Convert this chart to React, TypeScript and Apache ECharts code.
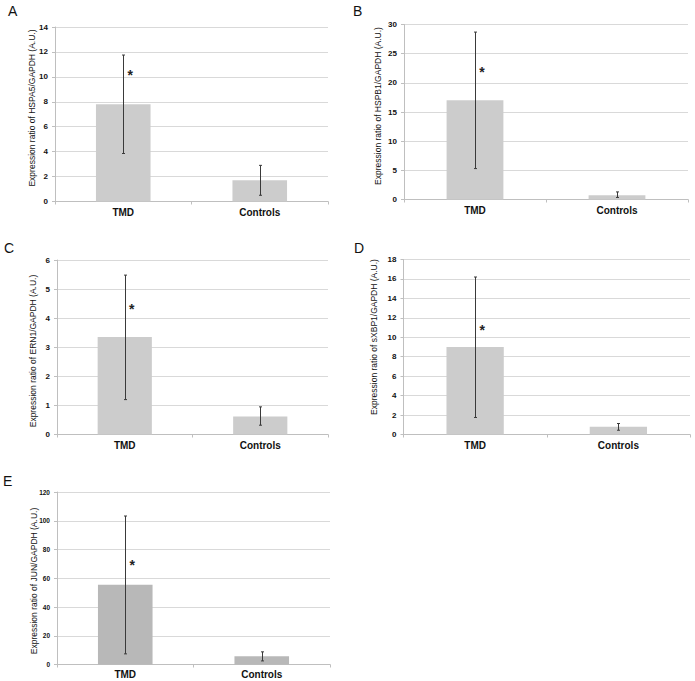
import React, { useEffect, useRef } from "react";
import * as echarts from "echarts";

const categories = ["TMD", "Controls"];

const hspa5Mean = [7.8, 1.7];
const hspa5Upper = [11.75, 2.9];
const hspa5Lower = [3.85, 0.5];
const hspa5Star = 10.4;

const hspb1Mean = [17.0, 0.75];
const hspb1Upper = [28.7, 1.3];
const hspb1Lower = [5.3, 0.35];
const hspb1Star = 22.4;

const ern1Mean = [3.35, 0.62];
const ern1Upper = [5.48, 0.95];
const ern1Lower = [1.2, 0.32];
const ern1Star = 4.42;

const sxbp1Mean = [9.0, 0.8];
const sxbp1Upper = [16.2, 1.13];
const sxbp1Lower = [1.75, 0.44];
const sxbp1Star = 11.1;

const junMean = [55.5, 5.8];
const junUpper = [103.3, 8.8];
const junLower = [7.4, 2.5];
const junStar = 71;

const yMax = [14, 30, 6, 18, 120];
const yInterval = [2, 5, 1, 2, 20];
const yTitles = [
  "Expression ratio of HSPA5/GAPDH (A.U.)",
  "Expression ratio of HSPB1/GAPDH (A.U.)",
  "Expression ratio of ERN1/GAPDH (A.U.)",
  "Expression ratio of sXBP1/GAPDH (A.U.)",
  "Expression ratio of JUN/GAPDH (A.U.)",
];
const panelLetters = ["A", "B", "C", "D", "E"];

const FONT = "Liberation Sans, Arial, sans-serif";

export default function App() {
  const ref = useRef<HTMLDivElement>(null);
  useEffect(() => {
    if (!ref.current) return;
    const chart = echarts.init(ref.current, undefined, { renderer: "svg" });

    const panels = [
      { mean: hspa5Mean, up: hspa5Upper, lo: hspa5Lower, star: hspa5Star, color: "#cccccc", tickFont: 8 },
      { mean: hspb1Mean, up: hspb1Upper, lo: hspb1Lower, star: hspb1Star, color: "#cccccc", tickFont: 8 },
      { mean: ern1Mean, up: ern1Upper, lo: ern1Lower, star: ern1Star, color: "#cccccc", tickFont: 8 },
      { mean: sxbp1Mean, up: sxbp1Upper, lo: sxbp1Lower, star: sxbp1Star, color: "#cccccc", tickFont: 8 },
      { mean: junMean, up: junUpper, lo: junLower, star: junStar, color: "#b8b8b8", tickFont: 6.5 },
    ];

    const grids = [
      { left: 55, top: 27, width: 273, height: 174.5 },
      { left: 404, top: 24.5, width: 284, height: 175 },
      { left: 57, top: 260, width: 271, height: 174.5 },
      { left: 403.5, top: 259.5, width: 286.5, height: 175 },
      { left: 57, top: 492, width: 273, height: 172.5 },
    ];
    const letterPos = [
      [8, 4],
      [353, 4],
      [4, 241],
      [354, 241],
      [3, 474],
    ];
    const titlePos = [
      [32, 108],
      [378, 106],
      [32.5, 351],
      [373.5, 337],
      [34, 581],
    ];

    const xAxis: any[] = [];
    const yAxis: any[] = [];
    const series: any[] = [];

    panels.forEach((p, i) => {
      xAxis.push({
        type: "category",
        gridIndex: i,
        data: categories,
        axisLine: { lineStyle: { color: "#bfbfbf", width: 1 } },
        axisTick: { show: true, length: 3, lineStyle: { color: "#bfbfbf" } },
        axisLabel: {
          color: "#111",
          fontFamily: FONT,
          fontWeight: "bold",
          fontSize: 10,
          margin: i === 4 ? 5 : 6,
        },
      });
      yAxis.push({
        type: "value",
        gridIndex: i,
        min: 0,
        max: yMax[i],
        interval: yInterval[i],
        axisLine: { show: true, lineStyle: { color: "#bfbfbf", width: 1 } },
        axisTick: { show: true, length: 3, lineStyle: { color: "#bfbfbf" } },
        splitLine: { show: true, lineStyle: { color: "#d9d9d9", width: 1 } },
        axisLabel: {
          color: "#111",
          fontFamily: FONT,
          fontWeight: "bold",
          fontSize: p.tickFont,
          margin: 7,
        },
      });
      series.push({
        type: "bar",
        xAxisIndex: i,
        yAxisIndex: i,
        data: p.mean,
        barWidth: "40%",
        itemStyle: { color: p.color },
        silent: true,
        z: 2,
      });
      series.push({
        type: "custom",
        xAxisIndex: i,
        yAxisIndex: i,
        data: categories.map((_, k) => [k, p.lo[k], p.up[k]]),
        z: 5,
        renderItem: (params: any, api: any) => {
          const lo = api.coord([api.value(0), api.value(1)]);
          const hi = api.coord([api.value(0), api.value(2)]);
          const x = Math.round(lo[0]) + 0.5;
          const st = { stroke: "#3a3a3a", lineWidth: 1 };
          return {
            type: "group",
            children: [
              { type: "line", shape: { x1: x, y1: lo[1], x2: x, y2: hi[1] }, style: st },
              { type: "line", shape: { x1: x - 1.5, y1: lo[1], x2: x + 1.5, y2: lo[1] }, style: st },
              { type: "line", shape: { x1: x - 1.5, y1: hi[1], x2: x + 1.5, y2: hi[1] }, style: st },
            ],
          };
        },
      });
      series.push({
        type: "custom",
        xAxisIndex: i,
        yAxisIndex: i,
        data: [[0, p.star]],
        z: 6,
        renderItem: (params: any, api: any) => {
          const pt = api.coord([api.value(0), api.value(1)]);
          return {
            type: "text",
            x: pt[0] + 7,
            y: pt[1] + 3,
            style: {
              text: "*",
              font: `bold 14px ${FONT}`,
              fill: "#222",
              textAlign: "center",
              textVerticalAlign: "middle",
            },
          };
        },
      });
    });

    const graphic: any[] = panelLetters.map((t, i) => ({
      type: "text",
      left: letterPos[i][0],
      top: letterPos[i][1],
      style: { text: t, font: `14px ${FONT}`, fill: "#111" },
    }));
    yTitles.forEach((t, i) => {
      graphic.push({
        type: "text",
        x: titlePos[i][0],
        y: titlePos[i][1],
        rotation: Math.PI / 2,
        style: {
          text: t,
          font: `8.5px ${FONT}`,
          fill: "#111",
          textAlign: "center",
          textVerticalAlign: "middle",
        },
      });
    });

    chart.setOption({
      animation: false,
      backgroundColor: "#ffffff",
      grid: grids.map((g) => ({ ...g, containLabel: false })),
      xAxis,
      yAxis,
      series,
      graphic,
    });
    return () => chart.dispose();
  }, []);

  return (
    <div
      ref={ref}
      style={{ position: "absolute", left: 0, top: 0, width: 695, height: 681, background: "#fff" }}
    />
  );
}
